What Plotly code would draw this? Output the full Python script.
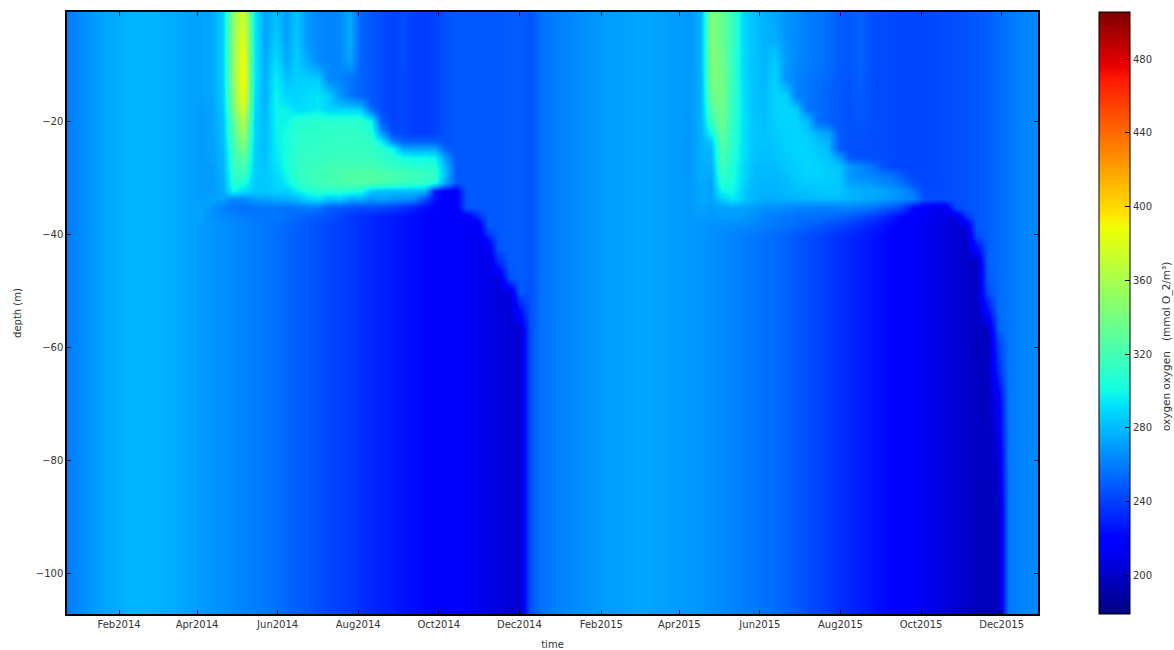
import plotly.graph_objects as go
import pandas as pd

# depth layer boundaries (m)
depth_edges = [-0.53,-3.72,-7.26,-10.8,-13.8,-16.6,-18.8,-21.1,-22.7,-24.1,-25.5,-27.1,-28.5,-29.9,
               -31.5,-32.9,-34.3,-35.9,-37.5,-39.3,-41.1,-43.5,-46.2,-48.8,-51.5,-55.0,-58.6,-69.2,-107.1]

# oxygen values; same at all depths in the winter stretches
winter_2014 = [258,262,266,270,273,275,277,278,278,277,276,274,272]
winter_2015 = [246,256,259,262,264,266,268,270,271,272,273,273,272,271,270,269]
winter_2016 = [258,261,263,264]

deep_2014 = [270,268,266,264,262,260,258,256,253,250,248,245,242,240,238,235,232,230,228,225,223,221,219,217,215,213]
tail_2014 = [248,248,248,248,248,249,250]

upper_2014 = [
 [272,274,286,350,378,295,272,282,270,283,268,264,262,264,275,252,248,244,241,244,240,239,241,246] + tail_2014,
 [272,274,286,350,385,295,272,285,271,284,268,264,262,264,275,252,248,244,241,244,240,239,241,246] + tail_2014,
 [272,274,286,350,390,295,274,290,274,286,274,264,262,264,272,252,248,244,241,244,240,239,241,246] + tail_2014,
 [272,274,286,350,393,295,276,296,282,286,286,285,264,262,258,252,248,244,241,243,240,239,241,246] + tail_2014,
 [272,274,284,346,388,292,276,298,288,288,290,293,285,268,258,252,248,244,241,243,240,239,241,246] + tail_2014,
 [270,272,283,340,378,290,278,298,298,290,292,295,288,288,288,285,254,244,241,243,240,239,241,246] + tail_2014,
 [270,272,282,330,365,288,279,298,298,308,308,310,310,310,310,310,300,250,241,243,240,239,241,246] + tail_2014,
 [270,272,281,326,355,288,280,297,302,309,310,311,312,312,312,312,308,268,244,243,240,239,241,246] + tail_2014,
 [270,272,280,322,347,287,280,296,303,309,311,312,313,313,313,313,311,295,264,250,250,250,250,246] + tail_2014,
 [270,272,279,318,340,286,281,295,302,310,312,313,314,314,314,314,312,310,300,276,274,274,274,252] + tail_2014,
 [270,272,278,316,330,286,282,294,302,311,313,314,315,316,316,316,315,312,308,302,300,300,298,268] + tail_2014,
 [270,270,277,314,322,286,283,292,302,312,315,316,318,320,320,320,320,316,314,310,308,308,306,278] + tail_2014,
 [270,270,276,312,315,286,284,290,300,312,316,318,320,322,324,326,326,324,322,320,318,316,312,280] + tail_2014,
 [270,270,275,308,305,285,284,288,296,308,315,318,320,322,324,324,324,322,320,316,314,312,306,272] + tail_2014,
 [270,270,274,300,290,284,284,286,286,295,305,308,308,308,306,302,284,281,280,280,280,278,225,218,216,248,248,248,248,249,250],
 [270,272,272,262,264,270,272,274,276,278,288,292,282,285,274,276,268,272,268,266,264,245,225,218,216,248,248,248,248,249,250],
 [272,268,260,258,256,256,258,258,256,258,260,258,250,248,246,244,244,242,240,236,230,224,220,218,216,248,248,248,248,249,250],
 [272,266,264,262,260,258,258,258,256,254,250,248,246,242,238,235,232,230,228,225,223,221,219,217,215,213,232,248,248,249,250],
 deep_2014 + [211,248,248,249,250],
 deep_2014 + [211,232,248,249,250],
 deep_2014 + [211,209,248,249,250],
 deep_2014 + [211,209,232,249,250],
 deep_2014 + [211,209,206,246,250],
 deep_2014 + [211,209,206,204,249],
 deep_2014 + [211,209,206,204,225],
 deep_2014 + [211,209,206,204,202],
 deep_2014 + [211,209,206,204,202],
 deep_2014 + [211,209,206,204,202],
]

deep_2015 = [268,266,264,262,260,258,256,254,251,248,245,242,238,235,232,229,226,223,220,218,215,212,209,206,203,200]
tail_2015 = [245,244,243,242,242,242,243,244,245,246,248,250,254]

upper_2015 = [
 [276,345,335,315,290,282,277,274,268,264,260,258,255,250,248,252] + tail_2015,
 [276,345,335,315,290,282,277,276,268,264,260,258,255,250,248,252] + tail_2015,
 [276,344,337,314,290,282,278,285,270,264,260,258,255,250,248,252] + tail_2015,
 [276,342,338,314,290,282,278,287,268,262,258,256,253,248,247,250] + tail_2015,
 [276,335,339,313,292,282,280,288,287,262,258,255,252,248,246,249] + tail_2015,
 [276,325,338,313,292,282,280,287,288,286,258,255,252,248,246,248] + tail_2015,
 [276,315,336,312,292,283,281,286,288,288,282,256,252,248,246,248] + tail_2015,
 [276,300,332,310,292,283,282,285,287,288,285,276,272,250,247,246] + tail_2015,
 [276,285,328,310,292,283,282,284,287,288,287,282,278,250,246,246] + tail_2015,
 [276,280,325,308,292,283,281,283,286,287,288,284,280,250,246,245] + tail_2015,
 [276,278,322,306,292,282,281,282,285,287,288,286,282,272,248,246] + tail_2015,
 [276,276,318,304,290,280,280,280,284,286,288,287,285,282,270,264,258,248,243,242,242,242,243,244,245,246,248,250,254],
 [276,274,314,304,290,280,280,279,282,285,287,288,286,284,268,264,262,258,255,248,243,242,243,244,245,246,248,250,254],
 [274,272,308,302,288,279,278,278,280,283,285,286,285,284,272,270,268,265,262,255,246,242,243,244,245,246,248,250,254],
 [274,272,298,300,286,278,277,277,279,281,282,283,284,283,278,276,275,273,270,266,258,244,243,244,245,246,248,250,254],
 [274,272,285,295,284,278,275,275,276,277,278,279,280,279,277,275,273,271,268,264,262,246,244,244,245,246,248,250,254],
 [272,270,272,272,272,270,266,266,264,262,261,260,261,261,262,260,258,252,248,240,222,216,212,209,243,246,248,250,254],
 [270,268,270,270,268,266,262,260,258,257,256,255,254,252,248,245,240,234,228,221,217,214,211,208,205,236,248,250,254],
 [268,267,266,265,264,262,260,258,256,254,251,248,245,242,238,234,230,226,221,218,215,212,209,206,203,205,248,250,254],
 deep_2015 + [244,250,254],
 deep_2015 + [222,250,254],
 deep_2015 + [198,250,254],
 deep_2015 + [198,248,254],
 deep_2015 + [198,244,254],
 deep_2015 + [198,224,254],
 deep_2015 + [198,197,250],
 deep_2015 + [198,197,232],
 deep_2015 + [198,197,196],
]

o2 = [winter_2014 + a + winter_2015 + b + winter_2016 for a, b in zip(upper_2014, upper_2015)]

time_edges = [pd.Timestamp("2013-12-16 14:00") + pd.Timedelta(days=8.04) * i for i in range(94)]
time_edges = [t.strftime("%Y-%m-%d %H:%M") for t in time_edges]

tick_dates = ["2014-02-01","2014-04-01","2014-06-01","2014-08-01","2014-10-01","2014-12-01",
              "2015-02-01","2015-04-01","2015-06-01","2015-08-01","2015-10-01","2015-12-01"]
tick_text = ["Feb2014","Apr2014","Jun2014","Aug2014","Oct2014","Dec2014",
             "Feb2015","Apr2015","Jun2015","Aug2015","Oct2015","Dec2015"]
depth_ticks = [-20,-40,-60,-80,-100]
cbar_ticks = [200,240,280,320,360,400,440,480]
cbar_label = "oxygen oxygen\u00a0\u00a0\u00a0(mmol O_2/m³)"

jet = [[0,"rgb(0,0,128)"],[0.11,"rgb(0,0,255)"],[0.125,"rgb(0,0,255)"],[0.34,"rgb(0,219,255)"],
       [0.35,"rgb(0,229,247)"],[0.375,"rgb(20,255,226)"],[0.64,"rgb(238,255,5)"],[0.66,"rgb(255,232,0)"],
       [0.89,"rgb(255,22,0)"],[0.91,"rgb(232,0,0)"],[1,"rgb(128,0,0)"]]

font = dict(family="DejaVu Sans", size=10, color="#333333")

fig = go.Figure(go.Heatmap(
    x=time_edges, y=depth_edges, z=o2, colorscale=jet, zmin=179, zmax=505.5, zsmooth="best",
    colorbar=dict(
        x=1.0628, xanchor="left", y=0, yanchor="bottom", len=1, lenmode="fraction",
        thickness=31, thicknessmode="pixels", xpad=0, ypad=0,
        outlinecolor="black", outlinewidth=1,
        tickmode="array", tickvals=cbar_ticks, ticks="inside", ticklen=5, tickcolor="black", tickwidth=1,
        tickfont=font,
    ),
))

fig.add_annotation(text=cbar_label, xref="paper", yref="paper", x=1.1318, y=0.445,
                   xanchor="center", yanchor="middle", textangle=-90, showarrow=False,
                   font=dict(family="DejaVu Sans", size=10.5, color="#333333"))

fig.update_layout(
    width=1174, height=650, autosize=False,
    margin=dict(l=67, r=136, t=12, b=36, pad=0),
    paper_bgcolor="white", plot_bgcolor="white", font=font,
    xaxis=dict(range=["2013-12-23 14:00","2015-12-28 12:00"], tickmode="array", tickvals=tick_dates, ticktext=tick_text,
               ticks="inside", ticklen=4, tickcolor="black", showline=True, linecolor="black", linewidth=1.5,
               mirror="ticks", showgrid=False, zeroline=False, automargin=False,
               title=dict(text="time", standoff=12, font=font), tickfont=font),
    yaxis=dict(range=[-107.1,-0.53], tickmode="array", tickvals=depth_ticks,
               ticks="inside", ticklen=4, tickcolor="black", showline=True, linecolor="black", linewidth=1.5,
               mirror="ticks", showgrid=False, zeroline=False, automargin=False,
               title=dict(text="depth (m)", standoff=12, font=font), tickfont=font),
)

for row in o2:
    if len(row) != 93:
        raise ValueError(len(row))

fig.write_html("out.html", config={"displayModeBar": False},
               post_script="document.body.style.margin='0';document.body.style.overflow='hidden';")
